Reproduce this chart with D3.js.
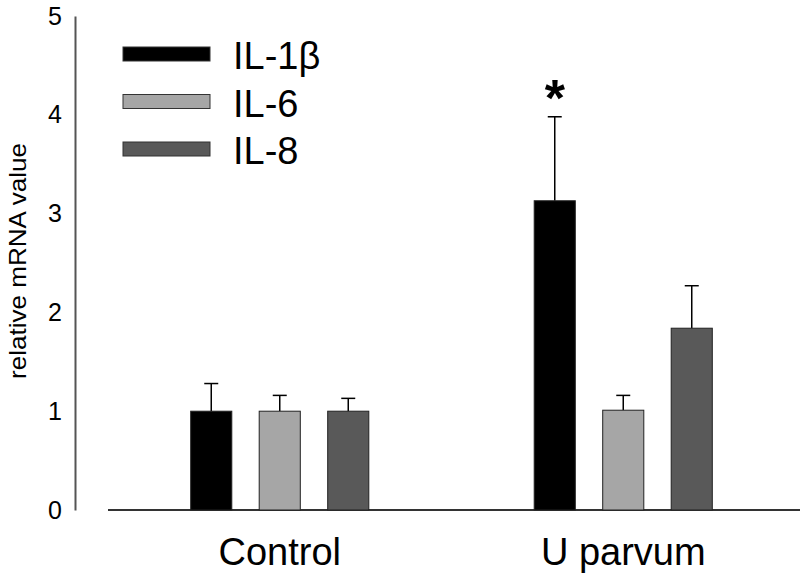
<!DOCTYPE html>
<html>
    <head>
        <meta charset="utf-8">
        <title>relative mRNA value</title>
        <script src="https://d3js.org/d3.v7.min.js"></script>
    </head>
    <style>
        body { margin: 0; background: #fff; }
        text { font-family: "Liberation Sans", Arial, sans-serif; }
    </style>
    <body>

        <div id="my_dataviz"></div>

        <script>

            var groups = ["Control", "U parvum"];
            var series = ["IL-1\u03b2", "IL-6", "IL-8"];
            var colors = ["#000000", "#a6a6a6", "#595959"];
            var means = [[1.00, 1.00, 1.00], [3.13, 1.01, 1.84]];   // po skupinah
            var errs  = [[0.28, 0.16, 0.13], [0.85, 0.15, 0.43]];
            var yTicks = [0, 1, 2, 3, 4, 5];
            var starGroup = "U parvum", starSeries = "IL-1\u03b2";

            var width = 800, height = 578;

            var svg = d3.select("#my_dataviz")
                .append("svg")
                    .attr("width", width)
                    .attr("height", height);

            // y os
            var y = d3.scaleLinear()
                .domain([0, 5])
                .range([510, 16]);

            var yAxis = svg.append("g")
                .attr("transform", "translate(75,0)")
                .call(d3.axisLeft(y).tickValues(yTicks).tickFormat(d3.format("d"))
                    .tickSize(0).tickPadding(13).tickSizeOuter(0));
            yAxis.select(".domain").attr("stroke", "#555").attr("stroke-width", 2);
            yAxis.selectAll("text")
                .attr("font-size", 25)
                .attr("fill", "#000")
                .attr("font-family", "Liberation Sans, Arial, sans-serif");

            svg.append("text")
                .attr("transform", "translate(26,261) rotate(-90)")
                .attr("text-anchor", "middle")
                .attr("font-size", 24)
                .attr("textLength", 236)
                .attr("lengthAdjust", "spacingAndGlyphs")
                .text("relative mRNA value");

            // x os
            var x = d3.scalePoint()
                .domain(groups)
                .range([108, 795])
                .padding(0.5);

            var xSub = d3.scaleBand()
                .domain(series)
                .range([-102.75, 102.75])
                .paddingInner(0.4)
                .paddingOuter(0.2);

            svg.append("line")
                .attr("x1", 108).attr("x2", 800)
                .attr("y1", y(0)).attr("y2", y(0))
                .attr("stroke", "#333")
                .attr("stroke-width", 2);

            svg.selectAll(".glabel")
                .data(groups)
                .enter().append("text")
                .attr("class", "glabel")
                .attr("x", function(d) { return x(d); })
                .attr("y", 565)
                .attr("text-anchor", "middle")
                .attr("font-size", 38)
                .text(function(d) { return d; });

            // stolpci
            groups.forEach(function(g, gi) {
                var gEl = svg.append("g").attr("transform", "translate(" + x(g) + ",0)");
                series.forEach(function(s, si) {
                    var cx = xSub(s) + xSub.bandwidth() / 2;
                    var top = y(means[gi][si] + errs[gi][si]);
                    gEl.append("line")
                        .attr("x1", cx).attr("x2", cx)
                        .attr("y1", y(means[gi][si])).attr("y2", top)
                        .attr("stroke", "#000").attr("stroke-width", 1.5);
                    gEl.append("line")
                        .attr("x1", cx - 7).attr("x2", cx + 7)
                        .attr("y1", top).attr("y2", top)
                        .attr("stroke", "#000").attr("stroke-width", 1.5);
                    gEl.append("rect")
                        .attr("x", xSub(s))
                        .attr("width", xSub.bandwidth())
                        .attr("y", y(means[gi][si]))
                        .attr("height", y(0) - y(means[gi][si]))
                        .attr("fill", colors[si])
                        .attr("stroke", "#222")
                        .attr("stroke-width", 1);
                    if (g === starGroup && s === starSeries) {
                        gEl.append("text")
                            .attr("x", cx)
                            .attr("y", top - 1)
                            .attr("text-anchor", "middle")
                            .attr("font-size", 52)
                            .attr("font-weight", "bold")
                            .text("*");
                    }
                });
            });

            // legenda
            var legend = svg.append("g").attr("transform", "translate(123,47)");
            series.forEach(function(s, i) {
                legend.append("rect")
                    .attr("x", 0).attr("y", i * 47.5)
                    .attr("width", 87).attr("height", 14)
                    .attr("fill", colors[i])
                    .attr("stroke", "#333")
                    .attr("stroke-width", 1);
                legend.append("text")
                    .attr("x", 110).attr("y", i * 47.5 + 22)
                    .attr("font-size", 38)
                    .text(s);
            });

        </script>
    </body>
</html>
